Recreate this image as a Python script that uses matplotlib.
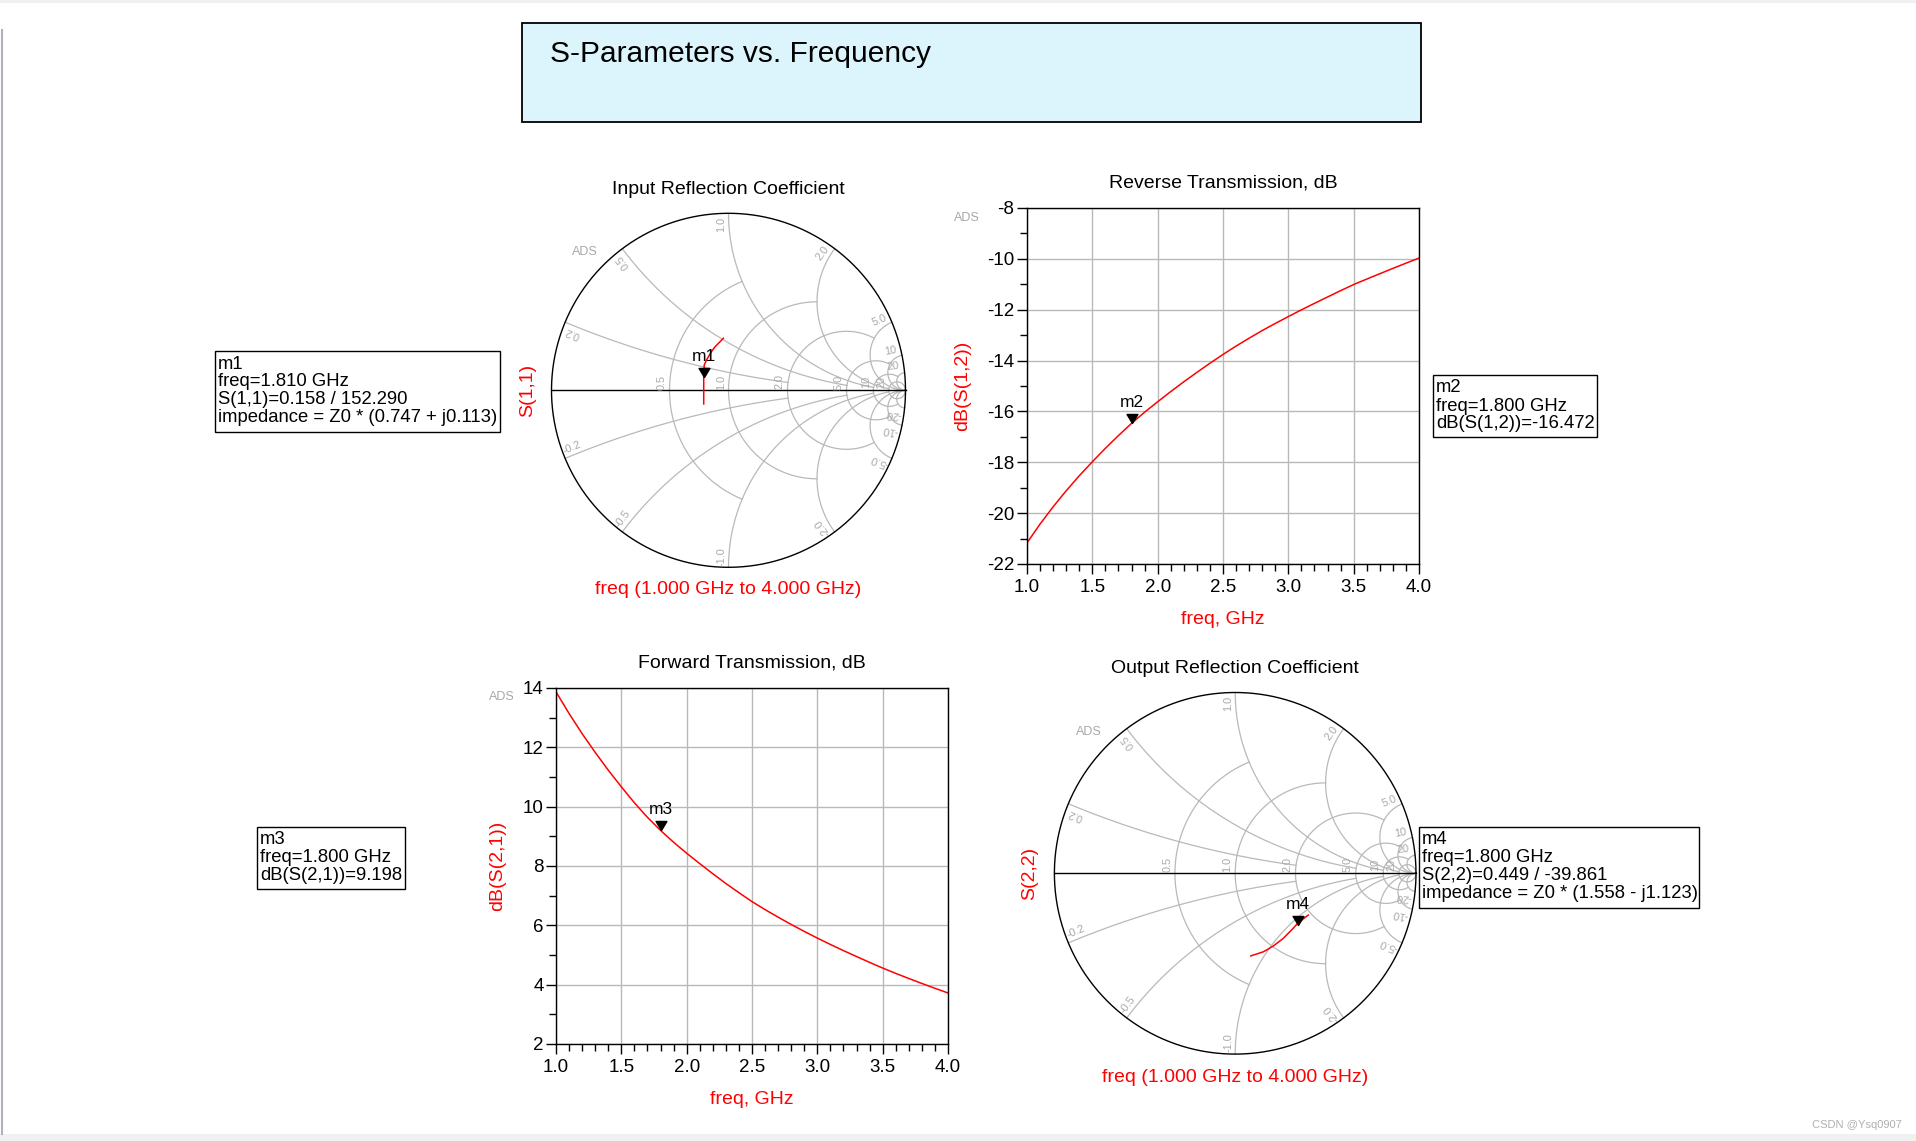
import numpy as np
import matplotlib
matplotlib.use('Agg')
import matplotlib.pyplot as plt
from matplotlib.patches import Rectangle
from matplotlib.ticker import MultipleLocator, FormatStrFormatter

plt.rcParams['font.family'] = ['Liberation Sans', 'DejaVu Sans']
plt.rcParams['axes.unicode_minus'] = False

# ---------------- data ----------------
freq_ghz = [1.0, 1.1, 1.2, 1.3, 1.4, 1.5, 1.6, 1.7, 1.8, 1.9, 2.0,
            2.1, 2.2, 2.3, 2.4, 2.5, 2.6, 2.7, 2.8, 2.9, 3.0,
            3.1, 3.2, 3.3, 3.4, 3.5, 3.6, 3.7, 3.8, 3.9, 4.0]
s12_db = [-21.17, -20.43, -19.75, -19.12, -18.53, -17.98, -17.45, -16.95, -16.47, -16.03, -15.62,
          -15.22, -14.835, -14.465, -14.105, -13.76, -13.43, -13.12, -12.82, -12.54, -12.27,
          -12.005, -11.75, -11.50, -11.25, -11.01, -10.795, -10.585, -10.375, -10.17, -9.97]
s21_db = [13.87, 13.14, 12.46, 11.83, 11.23, 10.67, 10.13, 9.64, 9.20, 8.80, 8.43,
          8.08, 7.74, 7.41, 7.10, 6.80, 6.53, 6.275, 6.03, 5.795, 5.57,
          5.355, 5.148, 4.948, 4.751, 4.56, 4.38, 4.208, 4.04, 3.878, 3.72]

s11_re = [-0.029, -0.052, -0.076, -0.093, -0.108, -0.124, -0.137, -0.140, -0.140, -0.140]
s11_im = [0.294, 0.270, 0.246, 0.223, 0.199, 0.172, 0.143, 0.074, 0.0, -0.077]
s22_re = [0.404, 0.349, 0.321, 0.266, 0.211, 0.156, 0.086]
s22_im = [-0.231, -0.273, -0.304, -0.360, -0.402, -0.434, -0.457]

# markers
m1_freq, m1_mag, m1_ang, m1_z = 1.810, 0.158, 152.290, "(0.747 + j0.113)"
m2_freq, m2_val = 1.800, -16.472
m3_freq, m3_val = 1.800, 9.198
m4_freq, m4_mag, m4_ang, m4_z = 1.800, 0.449, -39.861, "(1.558 - j1.123)"

smith_r_labels = [0.5, 1.0, 2.0, 5.0, 10, 20]
smith_x_labels = [0.2, 0.5, 1.0, 2.0, 5.0, 10, 20]

# ---------------- figure ----------------
W, H = 1916, 1141
fig = plt.figure(figsize=(W / 100, H / 100), dpi=100)
fig.patch.set_facecolor('white')


def fx(x):
    return x / W


def fy(y):
    return 1 - y / H


def rect(l, t, r, b):
    return [fx(l), fy(b), (r - l) / W, (b - t) / H]


# page decorations
fig.patches.append(Rectangle((0, fy(3)), 1, 3 / H, transform=fig.transFigure,
                             fc='#f0f0f0', ec='none'))
fig.patches.append(Rectangle((0, 0), 1, 7 / H, transform=fig.transFigure,
                             fc='#f0f0f0', ec='none'))
fig.lines.append(plt.Line2D([fx(1.5), fx(1.5)], [fy(30), fy(1134)], transform=fig.transFigure,
                            color='#b0b0c0', lw=1.5))
fig.text(fx(1902), fy(1128), 'CSDN @Ysq0907', fontsize=8, color='#b0b0b0', ha='right', va='baseline')

# title box
fig.patches.append(Rectangle((fx(522), fy(121.5)), (1421 - 522) / W, (121.5 - 22.5) / H,
                             transform=fig.transFigure, fc='#dcf4fb', ec='black', lw=1.3))
fig.text(fx(550), fy(62), 'S-Parameters vs. Frequency', fontsize=21.5, ha='left', va='baseline')

RED = '#ff0000'
GRID = '#b9b9b9'
LBL = '#a8a8a8'
ADSC = '#a8a8a8'
tri = [(0, 0), (-0.6, 1), (0.6, 1), (0, 0)]


def smith(cx, cy, rad, title, ylabel, re, im, mre, mim, mname):
    ax = fig.add_axes(rect(cx - rad, cy - rad, cx + rad, cy + rad))
    ax.set_xlim(-1, 1)
    ax.set_ylim(-1, 1)
    ax.axis('off')
    res = {0.5: 1.0, 1.0: 2.0, 2.0: 5.0, 5.0: 10.0, 10: 20.0, 20: np.inf}
    reac = {0.2: 2.0, 0.5: 5.0, 1.0: 10.0, 2.0: 20.0, 5.0: np.inf, 10: np.inf, 20: np.inf}
    for r in smith_r_labels:
        X = res[r]
        xs = np.tan(np.linspace(-np.arctan(X), np.arctan(X), 800))
        z = r + 1j * xs
        g = (z - 1) / (z + 1)
        ax.plot(g.real, g.imag, color=GRID, lw=0.9, clip_on=False)
        g0 = (r - 1) / (r + 1)
        lab = ('%.1f' % r) if r < 10 else '%d' % r
        ax.text(g0 - 0.043, 0.047, lab, rotation=90, ha='center', va='center',
                fontsize=7.8, color=LBL, clip_on=False)
    for x in smith_x_labels:
        R = reac[x]
        rs = np.tan(np.linspace(0, np.arctan(R), 800))
        for s in (1, -1):
            z = rs + 1j * s * x
            g = (z - 1) / (z + 1)
            ax.plot(g.real, g.imag, color=GRID, lw=0.9, clip_on=False)
            ge = (1j * s * x - 1) / (1j * s * x + 1)
            th = np.degrees(np.angle(ge))
            tl = np.radians(th + 2.4 * s)
            lab = ('%.1f' % x) if x < 10 else '%d' % x
            if s < 0:
                lab = '-' + lab
            ax.text(0.94 * np.cos(tl), 0.94 * np.sin(tl), lab, rotation=th % 180,
                    ha='center', va='center', fontsize=7.8, color=LBL, clip_on=False,
                    rotation_mode='anchor')
    t = np.linspace(0, 2 * np.pi, 1000)
    ax.plot(np.cos(t), np.sin(t), color='black', lw=1.0, clip_on=False)
    ax.plot([-1, 1], [0, 0], color='black', lw=1.0, clip_on=False)
    ax.plot(re, im, color=RED, lw=1.1, clip_on=False)
    ax.plot([mre], [mim], marker=tri, ms=13, color='black', ls='none', clip_on=False)
    ax.annotate(mname, (mre, mim), xytext=(0, 21), textcoords='offset pixels',
                ha='center', va='center', fontsize=12.5)
    ax.text(0, 1.133, title, ha='center', va='center', fontsize=14)
    ax.text(-1.137, 0, ylabel, rotation=90, ha='center', va='center', fontsize=14, color=RED)
    ax.text(0, -1.128, 'freq (1.000 GHz to 4.000 GHz)', ha='center', va='center',
            fontsize=14, color=RED)
    ax.text(-0.81, 0.78, 'ADS', ha='center', va='center', fontsize=9, color=ADSC)
    return ax


def rectplot(l, t, r, b, title, ylabel, vals, ylim, mval, mfreq, mname, ylab_x, ads_xy):
    ax = fig.add_axes(rect(l, t, r, b))
    ax.plot(freq_ghz, vals, color=RED, lw=1.1)
    ax.set_xlim(1, 4)
    ax.set_ylim(*ylim)
    ax.xaxis.set_major_locator(MultipleLocator(0.5))
    ax.xaxis.set_minor_locator(MultipleLocator(0.1))
    ax.yaxis.set_major_locator(MultipleLocator(2))
    ax.yaxis.set_minor_locator(MultipleLocator(1))
    ax.xaxis.set_major_formatter(FormatStrFormatter('%.1f'))
    ax.yaxis.set_major_formatter(FormatStrFormatter('%d'))
    ax.grid(True, which='major', color=GRID, lw=1.0)
    ax.tick_params(which='major', direction='out', length=7.5, width=1, labelsize=13.5,
                   colors='black')
    ax.tick_params(axis='y', which='major', pad=1.5)
    ax.tick_params(axis='x', which='major', pad=3)
    ax.tick_params(which='minor', direction='out', length=5, width=1)
    for sp in ax.spines.values():
        sp.set_color('black')
        sp.set_linewidth(1.0)
    ax.plot([mfreq], [mval], marker=tri, ms=13, color='black', ls='none', clip_on=False)
    ax.annotate(mname, (mfreq, mval), xytext=(0, 21), textcoords='offset pixels',
                ha='center', va='center', fontsize=12.5)
    ax.text(0.5, 1.070, title, transform=ax.transAxes, ha='center', va='center', fontsize=14)
    ax.text(ylab_x, 0.5, ylabel, transform=ax.transAxes, rotation=90, ha='center',
            va='center', fontsize=14, color=RED)
    ax.text(0.5, -0.157, 'freq, GHz', transform=ax.transAxes, ha='center', va='center',
            fontsize=14, color=RED)
    ax.text(ads_xy[0], ads_xy[1], 'ADS', transform=ax.transAxes, ha='center', va='center',
            fontsize=9, color=ADSC)
    return ax


def mbox(l, t, r, lines):
    n = len(lines)
    h = 15.5 + 18.5 * (n - 1) + 9.5
    fig.patches.append(Rectangle((fx(l), fy(t + h)), (r - l) / W, h / H,
                                 transform=fig.transFigure, fc='white', ec='black', lw=1.0))
    for i, s in enumerate(lines):
        fig.text(fx(l + 3), fy(t + 17.5 + 18.0 * i), s, fontsize=13.3, ha='left',
                 va='baseline')


# Input reflection
m1_re = m1_mag * np.cos(np.radians(m1_ang))
m1_im = m1_mag * np.sin(np.radians(m1_ang))
smith(728.5, 390.3, 177, 'Input Reflection Coefficient', 'S(1,1)', s11_re, s11_im,
      m1_re, m1_im, 'm1')

# Output reflection
m4_re = m4_mag * np.cos(np.radians(m4_ang))
m4_im = m4_mag * np.sin(np.radians(m4_ang))
smith(1235.2, 873.3, 180.8, 'Output Reflection Coefficient', 'S(2,2)', s22_re, s22_im,
      m4_re, m4_im, 'm4')

# Reverse transmission
rectplot(1027, 208, 1419, 564, 'Reverse Transmission, dB', 'dB(S(1,2))', s12_db, (-22, -8),
         m2_val, m2_freq, 'm2', -0.163, (-0.153, 0.972))

# Forward transmission
rectplot(556, 688, 948, 1044, 'Forward Transmission, dB', 'dB(S(2,1))', s21_db, (2, 14),
         m3_val, m3_freq, 'm3', -0.148, (-0.138, 0.975))

# marker readouts
mbox(215, 351, 500, ['m1', 'freq=%.3f GHz' % m1_freq,
                     'S(1,1)=%.3f / %.3f' % (m1_mag, m1_ang),
                     'impedance = Z0 * %s' % m1_z])
mbox(1433, 375, 1597, ['m2', 'freq=%.3f GHz' % m2_freq, 'dB(S(1,2))=%.3f' % m2_val])
mbox(257, 827, 405, ['m3', 'freq=%.3f GHz' % m3_freq, 'dB(S(2,1))=%.3f' % m3_val])
mbox(1419, 827, 1699, ['m4', 'freq=%.3f GHz' % m4_freq,
                       'S(2,2)=%.3f / %.3f' % (m4_mag, m4_ang),
                       'impedance = Z0 * %s' % m4_z])

fig.savefig('out.png', dpi=100, facecolor='white')
